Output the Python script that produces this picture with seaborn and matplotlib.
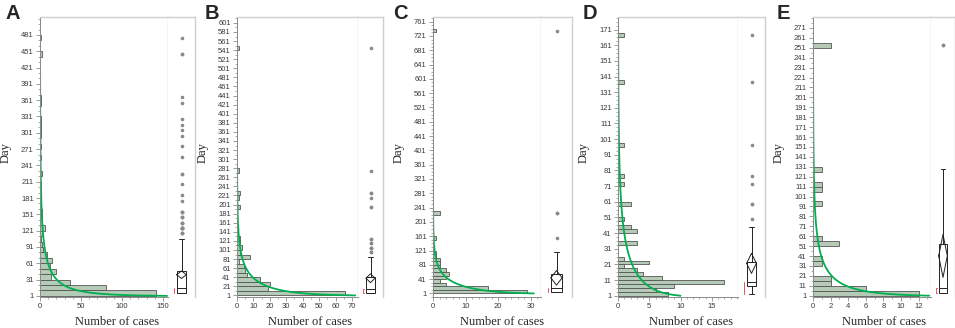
import numpy as np
import pandas as pd
import matplotlib
matplotlib.use("Agg")
import matplotlib.pyplot as plt
from matplotlib.ticker import FixedLocator, AutoMinorLocator
import seaborn as sns

# histogram bins: first day of each non-empty bin and its count
a_bin = 10
a_days = [1, 11, 21, 31, 41, 51, 61, 71, 81, 91, 101, 111, 121, 131, 141, 151,
          171, 181, 201, 221, 251, 271, 291, 301, 311, 321, 351, 361, 441, 471]
a_counts = [141, 81, 36, 14, 19, 12, 15, 8, 4, 2, 1, 3, 6, 3, 3, 3,
            1, 1, 1, 2, 1, 1, 1, 1, 1, 1, 1, 1, 2, 1]

b_bin = 10
b_days = [1, 11, 21, 31, 41, 51, 61, 71, 81, 91, 101, 111, 121, 191, 211, 221, 271, 541]
b_counts = [66, 19, 20, 14, 6, 5, 4, 1, 8, 2, 3, 2, 2, 2, 1, 2, 1, 1]

c_bin = 10
c_days = [1, 11, 21, 31, 41, 51, 61, 71, 81, 91, 101, 111, 151, 221, 731]
c_counts = [29, 17, 4, 2, 4, 5, 4, 2, 2, 2, 1, 1, 1, 2, 1]

d_bin = 2.5
d_days = [1, 3.5, 6, 8.5, 11, 13.5, 16, 18.5, 21, 23.5, 33.5, 41, 43.5, 48.5,
          58.5, 71, 76, 96, 136, 166]
d_counts = [8, 6, 9, 17, 7, 4, 3, 1, 5, 1, 3, 3, 2, 1, 2, 1, 1, 1, 1, 1]

e_bin = 5
e_days = [1, 6, 11, 16, 31, 36, 51, 56, 91, 106, 111, 126, 251]
e_counts = [12, 6, 2, 2, 1, 1, 3, 1, 1, 1, 1, 1, 2]

# fitted Weibull curve: (cases at day 1, shape, scale in days)
a_fit = (155, 0.65, 35)
b_fit = (72, 0.78, 30)
c_fit = (31, 0.85, 28)
d_fit = (10, 0.80, 22)
e_fit = (13.2, 0.70, 20)

# axis ticks
a_xticks = [0, 50, 100, 150]
b_xticks = [0, 10, 20, 30, 40, 50, 60, 70]
c_xticks = [0, 10, 20, 30]
d_xticks = [0, 5, 10, 15]
e_xticks = [0, 2, 4, 6, 8, 10, 12]
a_yticks = list(range(1, 482, 30))
b_yticks = list(range(1, 602, 20))
c_yticks = list(range(1, 762, 40))
d_yticks = list(range(1, 172, 10))
e_yticks = list(range(1, 272, 10))

panels = [
    dict(letter="A", days=a_days, counts=a_counts, bw=a_bin, fit=a_fit, xt=a_xticks, yt=a_yticks,
         px=(40, 168, 195, 5), xlim=(0, 156), ylim=(-1, 514), xminor=5, yminor=3),
    dict(letter="B", days=b_days, counts=b_counts, bw=b_bin, fit=b_fit, xt=b_xticks, yt=b_yticks,
         px=(237, 358, 383, 205), xlim=(0, 73.7), ylim=(-2.5, 614), xminor=2, yminor=2),
    dict(letter="C", days=c_days, counts=c_counts, bw=c_bin, fit=c_fit, xt=c_xticks, yt=c_yticks,
         px=(433, 541, 572, 393), xlim=(0, 33.2), ylim=(-9, 774), xminor=5, yminor=4),
    dict(letter="D", days=d_days, counts=d_counts, bw=d_bin, fit=d_fit, xt=d_xticks, yt=d_yticks,
         px=(618, 738, 765, 583), xlim=(0, 19.2), ylim=(0.2, 179), xminor=5, yminor=4),
    dict(letter="E", days=e_days, counts=e_counts, bw=e_bin, fit=e_fit, xt=e_xticks, yt=e_yticks,
         px=(813, 931, 955, 777), xlim=(0, 13.4), ylim=(-0.3, 282), xminor=2, yminor=2),
]

sns.set_style("white")
plt.rcParams["font.family"] = ["Liberation Sans", "DejaVu Sans"]

BAR = "#b6cab8"
EDGE = "#555555"
GREEN = "#00b050"
FRAME = "#cfcfcf"
AXIS = "#8c8c8c"

W, H = 955, 328
TOP, BOT = 17, 297
fig = plt.figure(figsize=(W / 100, H / 100), dpi=100)


def fx(p):
    return p / W


def fy(p):
    return 1 - p / H


for p in panels:
    left, sep, right, lx = p["px"]
    ax = fig.add_axes([fx(left), fy(BOT), fx(sep - left), fy(TOP) - fy(BOT)])
    axb = fig.add_axes([fx(sep), fy(BOT), fx(right - sep), fy(TOP) - fy(BOT)])

    bw = p["bw"]
    days = np.array(p["days"], dtype=float)
    counts = np.array(p["counts"], dtype=float)
    mids = days + bw / 2
    df = pd.DataFrame({"day": mids, "n": counts})
    nb = int(round((days.max() - 1) / bw)) + 2
    edges = [float(e) for e in 1 + bw * np.arange(nb + 1)]

    sns.histplot(data=df, y="day", weights="n", bins=edges, ax=ax,
                 color=BAR, edgecolor=EDGE, linewidth=0.6, alpha=1)

    # fitted Weibull density, scaled so that day 1 matches the picture
    c0, k, lam = p["fit"]
    yy = np.linspace(1, p["ylim"][1], 600)
    shape = yy ** (k - 1) * np.exp(-(yy / lam) ** k) / np.exp(-(1 / lam) ** k)
    fit = pd.DataFrame({"day": yy, "val": c0 * shape})
    sns.lineplot(data=fit, x="val", y="day", ax=ax, orient="y", color=GREEN,
                 linewidth=1.3, estimator=None)

    ax.set_xlim(*p["xlim"])
    ax.set_ylim(*p["ylim"])
    ax.xaxis.set_major_locator(FixedLocator(p["xt"]))
    ax.yaxis.set_major_locator(FixedLocator(p["yt"]))
    ax.xaxis.set_minor_locator(AutoMinorLocator(p["xminor"]))
    ax.yaxis.set_minor_locator(AutoMinorLocator(p["yminor"]))
    ax.tick_params(which="major", length=3, width=0.6, color=AXIS,
                   labelsize=5.5, labelcolor="#3a3a3a", pad=1.5)
    ax.tick_params(which="minor", length=1.6, width=0.5, color=AXIS)
    ax.tick_params(left=True, bottom=True, which="both")
    ax.set_xlabel("")
    ax.set_ylabel("")
    for s in ["left", "bottom"]:
        ax.spines[s].set_color(AXIS)
        ax.spines[s].set_linewidth(0.7)
    for s in ["top", "right"]:
        ax.spines[s].set_color(FRAME)
        ax.spines[s].set_linewidth(1.0)

    # outlier box plot with mean diamond and shortest half bracket
    vals = np.repeat(mids, counts.astype(int))
    sns.boxplot(y=vals, ax=axb, width=0.36, color="white", linecolor="#222222",
                linewidth=0.7, fliersize=1.6,
                flierprops=dict(marker="o", markerfacecolor="#8a8a8a",
                                markeredgecolor="#8a8a8a"))
    m = vals.mean()
    ci = 1.96 * vals.std(ddof=1) / np.sqrt(len(vals))
    hw = 0.18
    axb.plot([-hw, 0, hw, 0, -hw], [m, m + ci, m, m - ci, m], color="#222222", lw=0.7)
    sv = np.sort(vals)
    h = int(np.ceil(len(sv) / 2))
    spans = sv[h - 1:] - sv[:len(sv) - h + 1]
    i = int(np.argmin(spans))
    lo_, hi_ = sv[i], sv[i + h - 1]
    axb.plot([-0.26, -0.29, -0.29, -0.26], [lo_, lo_, hi_, hi_], color="#e8505f", lw=0.7)
    axb.set_xlim(-0.5, 0.5)
    axb.set_ylim(*p["ylim"])
    axb.set_xticks([])
    axb.set_yticks([])
    axb.set_xlabel("")
    axb.set_ylabel("")
    axb.spines["left"].set_visible(False)
    axb.spines["bottom"].set_visible(False)
    for s in ["top", "right"]:
        axb.spines[s].set_color(FRAME)
        axb.spines[s].set_linewidth(1.0)

    # labels
    fig.text(fx((left + right) / 2), fy(322), "Number of cases", ha="center", va="center",
             fontsize=9, family=["Liberation Serif", "DejaVu Serif"])
    fig.text(fx(left - 34), fy(153), "Day", ha="center", va="center", rotation=90,
             fontsize=9, family=["Liberation Serif", "DejaVu Serif"])
    fig.text(fx(lx), fy(19), p["letter"], ha="left", va="baseline",
             fontsize=14.5, fontweight="bold")

fig.savefig("out.png", dpi=100)
